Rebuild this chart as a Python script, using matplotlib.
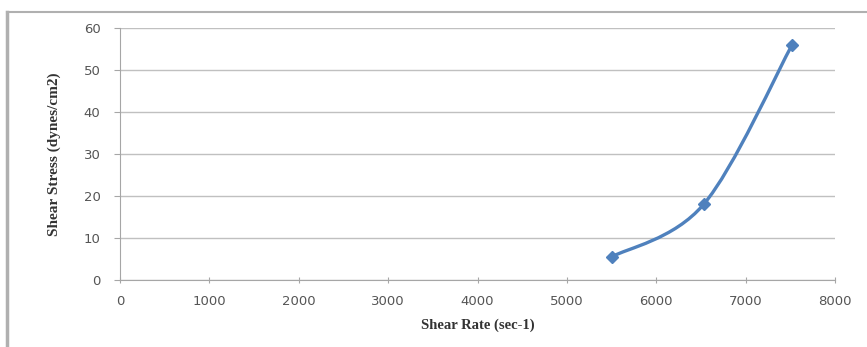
import numpy as np
import matplotlib
matplotlib.use("Agg")
import matplotlib.pyplot as plt
from matplotlib.path import Path
from matplotlib.patches import PathPatch
from matplotlib.lines import Line2D

# data
shear_rate = [5500, 6530, 7520]
shear_stress = [5.5, 18, 56]
x_ticks = [0, 1000, 2000, 3000, 4000, 5000, 6000, 7000, 8000]
y_ticks = [0, 10, 20, 30, 40, 50, 60]

BLUE = "#4F81BD"


def smooth_path(xs, ys, t=1 / 6):
    # excel-style smoothed line: bezier segments through the points
    pts = np.column_stack([xs, ys]).astype(float)
    n = len(pts)
    verts = [pts[0]]
    codes = [Path.MOVETO]
    for i in range(n - 1):
        p0 = pts[i - 1] if i > 0 else pts[i]
        p1 = pts[i]
        p2 = pts[i + 1]
        p3 = pts[i + 2] if i + 2 < n else pts[i + 1]
        c1 = p1 + (p2 - p0) * t
        c2 = p2 - (p3 - p1) * t
        verts += [c1, c2, p2]
        codes += [Path.CURVE4] * 3
    return Path(verts, codes)


fig = plt.figure(figsize=(8.67, 3.47), dpi=100)
ax = fig.add_axes([120 / 867, 1 - 280 / 347, 715 / 867, 252 / 347])

ax.add_patch(PathPatch(smooth_path(shear_rate, shear_stress), fc="none",
                       ec=BLUE, lw=2.4, zorder=3))
ax.plot(shear_rate, shear_stress, ls="none", marker="D", ms=6.5, color=BLUE,
        zorder=4)

ax.set_xlim(0, 8000)
ax.set_ylim(0, 60)
ax.set_xticks(x_ticks)
ax.set_yticks(y_ticks)
ax.grid(axis="y", color="#c0c0c0", lw=1)
ax.set_axisbelow(True)
for s in ["top", "right"]:
    ax.spines[s].set_visible(False)
for s in ["left", "bottom"]:
    ax.spines[s].set_color("#a6a6a6")
ax.tick_params(axis="x", direction="inout", length=5, color="#a6a6a6",
               labelsize=9.5, labelcolor="#555555", pad=8)
ax.tick_params(axis="y", direction="out", length=4, color="#a6a6a6",
               labelsize=9.5, labelcolor="#555555", pad=10)

ax.set_xlabel("Shear Rate (sec-1)", family="Liberation Serif",
              fontweight="bold", fontsize=10.5, color="#333333", labelpad=8)
ax.set_ylabel("Shear Stress (dynes/cm2)", family="Liberation Serif",
              fontweight="bold", fontsize=11, color="#333333", labelpad=16)

# chart area frame (top and left edges)
fig.add_artist(Line2D([7 / 867, 1], [1 - 12 / 347] * 2, color="#b0b0b0",
                      lw=1.5, transform=fig.transFigure))
fig.add_artist(Line2D([7 / 867] * 2, [0, 1 - 12 / 347], color="#b0b0b0",
                      lw=2.5, transform=fig.transFigure))

fig.savefig("out.png", dpi=100)
